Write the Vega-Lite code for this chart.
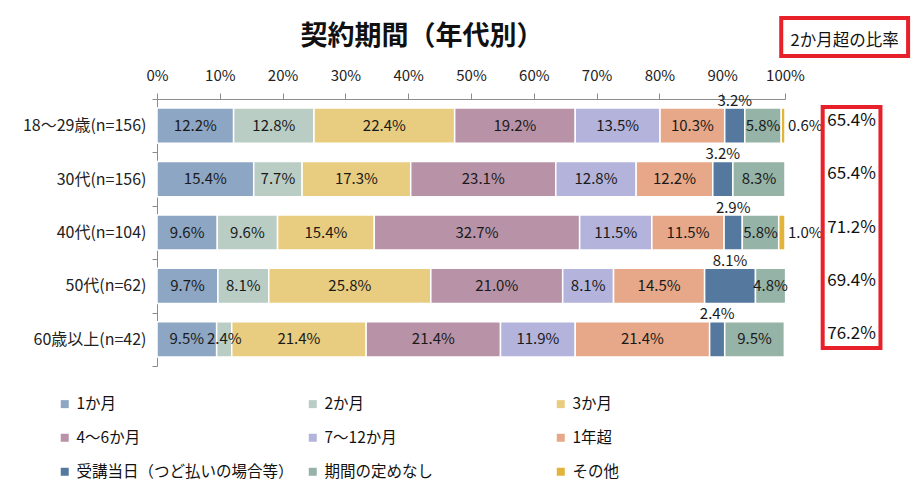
{
  "$schema": "https://vega.github.io/schema/vega-lite/v6.json",
  "autosize": {"type": "none"},
  "padding": {"left": 157, "top": 99, "right": 128, "bottom": 130},
  "width": 628,
  "height": 267,
  "background": "white",
  "config": {
    "font": "Noto Sans CJK JP",
    "view": {"stroke": null}
  },
  "datasets": {
    "main": [
      {"g": "18〜29歳(n=156)", "c": "1か月", "k": 1, "v": 0.122},
      {"g": "18〜29歳(n=156)", "c": "2か月", "k": 2, "v": 0.128},
      {"g": "18〜29歳(n=156)", "c": "3か月", "k": 3, "v": 0.224},
      {"g": "18〜29歳(n=156)", "c": "4〜6か月", "k": 4, "v": 0.192},
      {"g": "18〜29歳(n=156)", "c": "7〜12か月", "k": 5, "v": 0.135},
      {"g": "18〜29歳(n=156)", "c": "1年超", "k": 6, "v": 0.103},
      {"g": "18〜29歳(n=156)", "c": "受講当日（つど払いの場合等）", "k": 7, "v": 0.032},
      {"g": "18〜29歳(n=156)", "c": "期間の定めなし", "k": 8, "v": 0.058},
      {"g": "18〜29歳(n=156)", "c": "その他", "k": 9, "v": 0.006},
      {"g": "30代(n=156)", "c": "1か月", "k": 1, "v": 0.154},
      {"g": "30代(n=156)", "c": "2か月", "k": 2, "v": 0.077},
      {"g": "30代(n=156)", "c": "3か月", "k": 3, "v": 0.173},
      {"g": "30代(n=156)", "c": "4〜6か月", "k": 4, "v": 0.231},
      {"g": "30代(n=156)", "c": "7〜12か月", "k": 5, "v": 0.128},
      {"g": "30代(n=156)", "c": "1年超", "k": 6, "v": 0.122},
      {"g": "30代(n=156)", "c": "受講当日（つど払いの場合等）", "k": 7, "v": 0.032},
      {"g": "30代(n=156)", "c": "期間の定めなし", "k": 8, "v": 0.083},
      {"g": "40代(n=104)", "c": "1か月", "k": 1, "v": 0.096},
      {"g": "40代(n=104)", "c": "2か月", "k": 2, "v": 0.096},
      {"g": "40代(n=104)", "c": "3か月", "k": 3, "v": 0.154},
      {"g": "40代(n=104)", "c": "4〜6か月", "k": 4, "v": 0.327},
      {"g": "40代(n=104)", "c": "7〜12か月", "k": 5, "v": 0.115},
      {"g": "40代(n=104)", "c": "1年超", "k": 6, "v": 0.115},
      {"g": "40代(n=104)", "c": "受講当日（つど払いの場合等）", "k": 7, "v": 0.029},
      {"g": "40代(n=104)", "c": "期間の定めなし", "k": 8, "v": 0.058},
      {"g": "40代(n=104)", "c": "その他", "k": 9, "v": 0.010},
      {"g": "50代(n=62)", "c": "1か月", "k": 1, "v": 0.097},
      {"g": "50代(n=62)", "c": "2か月", "k": 2, "v": 0.081},
      {"g": "50代(n=62)", "c": "3か月", "k": 3, "v": 0.258},
      {"g": "50代(n=62)", "c": "4〜6か月", "k": 4, "v": 0.210},
      {"g": "50代(n=62)", "c": "7〜12か月", "k": 5, "v": 0.081},
      {"g": "50代(n=62)", "c": "1年超", "k": 6, "v": 0.145},
      {"g": "50代(n=62)", "c": "受講当日（つど払いの場合等）", "k": 7, "v": 0.081},
      {"g": "50代(n=62)", "c": "期間の定めなし", "k": 8, "v": 0.048},
      {"g": "60歳以上(n=42)", "c": "1か月", "k": 1, "v": 0.095},
      {"g": "60歳以上(n=42)", "c": "2か月", "k": 2, "v": 0.024},
      {"g": "60歳以上(n=42)", "c": "3か月", "k": 3, "v": 0.214},
      {"g": "60歳以上(n=42)", "c": "4〜6か月", "k": 4, "v": 0.214},
      {"g": "60歳以上(n=42)", "c": "7〜12か月", "k": 5, "v": 0.119},
      {"g": "60歳以上(n=42)", "c": "1年超", "k": 6, "v": 0.214},
      {"g": "60歳以上(n=42)", "c": "受講当日（つど払いの場合等）", "k": 7, "v": 0.024},
      {"g": "60歳以上(n=42)", "c": "期間の定めなし", "k": 8, "v": 0.095}
    ],
    "ratio": [
      {"g": "18〜29歳(n=156)", "r": 0.654},
      {"g": "30代(n=156)", "r": 0.654},
      {"g": "40代(n=104)", "r": 0.712},
      {"g": "50代(n=62)", "r": 0.694},
      {"g": "60歳以上(n=42)", "r": 0.762}
    ],
    "note": [
      {"t": "2か月超の比率", "title": "契約期間（年代別）"}
    ]
  },
  "layer": [
    {
      "layer": [
        {
          "data": {"name": "main"},
          "transform": [
            {"stack": "v", "groupby": ["g"], "sort": [{"field": "k", "order": "ascending"}], "as": ["x0", "x1"]}
          ],
          "mark": {"type": "bar", "stroke": "white", "strokeWidth": 1.5, "height": {"band": 0.66}},
          "encoding": {
            "y": {
              "field": "g", "type": "nominal",
              "scale": {"domain": ["18〜29歳(n=156)", "30代(n=156)", "40代(n=104)", "50代(n=62)", "60歳以上(n=42)"], "paddingInner": 0, "paddingOuter": 0},
              "axis": {
                "title": null, "orient": "left", "labelFontSize": 16, "labelColor": "#222222", "labelPadding": 6,
                "domainColor": "#8c8c8c", "tickColor": "#8c8c8c", "tickBand": "extent", "tickSize": 5, "labelFont": "Noto Sans CJK JP"
              }
            },
            "x": {
              "field": "x0", "type": "quantitative",
              "scale": {"domain": [0, 1], "nice": false, "zero": true},
              "axis": {
                "title": null, "orient": "top", "values": [0, 0.1, 0.2, 0.3, 0.4, 0.5, 0.6, 0.7, 0.8, 0.9, 1.0],
                "format": ".0%", "labelFontSize": 15, "labelColor": "#222222", "grid": false, "labelFlush": false,
                "domainColor": "#8c8c8c", "tickColor": "#8c8c8c", "tickSize": 6, "labelPadding": 10, "labelFont": "Noto Sans CJK JP"
              }
            },
            "x2": {"field": "x1"},
            "color": {
              "field": "c", "type": "nominal",
              "scale": {
                "domain": ["1か月", "2か月", "3か月", "4〜6か月", "7〜12か月", "1年超", "受講当日（つど払いの場合等）", "期間の定めなし", "その他"],
                "range": ["#8DA6C3", "#B9CDC5", "#E8CC80", "#B893A7", "#B3B3DB", "#E6A888", "#55789F", "#96B3A7", "#E2B43A"]
              },
              "legend": {
                "title": null, "orient": "none", "direction": "horizontal", "legendX": -100, "legendY": 297, "columns": 3, "gridAlign": "all",
                "columnPadding": 11, "rowPadding": 17, "symbolType": "square", "symbolSize": 64, "symbolStrokeWidth": 0,
                "labelFontSize": 15.5, "labelColor": "#111111", "labelLimit": 300, "labelOffset": 4, "labelFont": "Noto Sans CJK JP"
              }
            }
          }
        },
        {
          "data": {"name": "main"},
          "transform": [
            {"stack": "v", "groupby": ["g"], "sort": [{"field": "k", "order": "ascending"}], "as": ["x0", "x1"]},
            {"calculate": "(datum.x0 + datum.x1) / 2", "as": "mid"},
            {"filter": "datum.k <= 6 || datum.k == 8"}
          ],
          "mark": {"type": "text", "fontSize": 15, "color": "#1a1a1a", "align": "center", "baseline": "middle"},
          "encoding": {
            "y": {"field": "g", "type": "nominal"},
            "x": {"field": "mid", "type": "quantitative"},
            "text": {"field": "v", "type": "quantitative", "format": ".1%"}
          }
        },
        {
          "data": {"name": "main"},
          "transform": [
            {"stack": "v", "groupby": ["g"], "sort": [{"field": "k", "order": "ascending"}], "as": ["x0", "x1"]},
            {"calculate": "(datum.x0 + datum.x1) / 2", "as": "mid"},
            {"filter": "datum.k == 7"}
          ],
          "mark": {"type": "text", "fontSize": 15, "color": "#1a1a1a", "align": "center", "baseline": "middle", "dy": -25},
          "encoding": {
            "y": {"field": "g", "type": "nominal"},
            "x": {"field": "mid", "type": "quantitative"},
            "text": {"field": "v", "type": "quantitative", "format": ".1%"}
          }
        },
        {
          "data": {"name": "main"},
          "transform": [
            {"stack": "v", "groupby": ["g"], "sort": [{"field": "k", "order": "ascending"}], "as": ["x0", "x1"]},
            {"filter": "datum.k == 9"}
          ],
          "mark": {"type": "text", "fontSize": 15, "color": "#1a1a1a", "align": "left", "baseline": "middle", "dx": 3},
          "encoding": {
            "y": {"field": "g", "type": "nominal"},
            "x": {"field": "x1", "type": "quantitative"},
            "text": {"field": "v", "type": "quantitative", "format": ".1%"}
          }
        },
        {
          "data": {"name": "ratio"},
          "mark": {"type": "text", "fontSize": 17, "color": "#111111", "align": "center", "baseline": "middle", "dy": -5, "clip": false},
          "encoding": {
            "y": {"field": "g", "type": "nominal"},
            "x": {"datum": 1.106, "type": "quantitative"},
            "text": {"field": "r", "type": "quantitative", "format": ".1%"}
          }
        }
      ]
    },
    {
      "layer": [
        {
          "data": {"name": "note"},
          "mark": {"type": "rect", "fill": null, "fillOpacity": 0, "stroke": "#E8202A", "strokeWidth": 4, "clip": false},
          "encoding": {
            "x": {"datum": 1.06, "type": "quantitative"},
            "x2": {"datum": 1.152},
            "y": {"datum": 0.970, "type": "quantitative", "scale": {"domain": [0, 1], "nice": false, "zero": false}, "axis": null},
            "y2": {"datum": 0.067}
          }
        },
        {
          "data": {"name": "note"},
          "mark": {"type": "rect", "fill": null, "fillOpacity": 0, "stroke": "#E8202A", "strokeWidth": 4, "clip": false},
          "encoding": {
            "x": {"datum": 0.994, "type": "quantitative"},
            "x2": {"datum": 1.196},
            "y": {"datum": 1.303, "type": "quantitative"},
            "y2": {"datum": 1.161}
          }
        },
        {
          "data": {"name": "note"},
          "mark": {"type": "text", "fontSize": 16.5, "color": "#111111", "align": "center", "baseline": "middle", "clip": false},
          "encoding": {
            "x": {"datum": 1.095, "type": "quantitative"},
            "y": {"datum": 1.217, "type": "quantitative"},
            "text": {"field": "t"}
          }
        },
        {
          "data": {"name": "note"},
          "mark": {"type": "text", "fontSize": 27, "fontWeight": "bold", "color": "#111111", "align": "center", "baseline": "middle", "clip": false},
          "encoding": {
            "x": {"datum": 0.422, "type": "quantitative"},
            "y": {"datum": 1.232, "type": "quantitative"},
            "text": {"field": "title"}
          }
        }
      ]
    }
  ],
  "resolve": {"scale": {"y": "independent"}, "axis": {"y": "independent"}}
}
